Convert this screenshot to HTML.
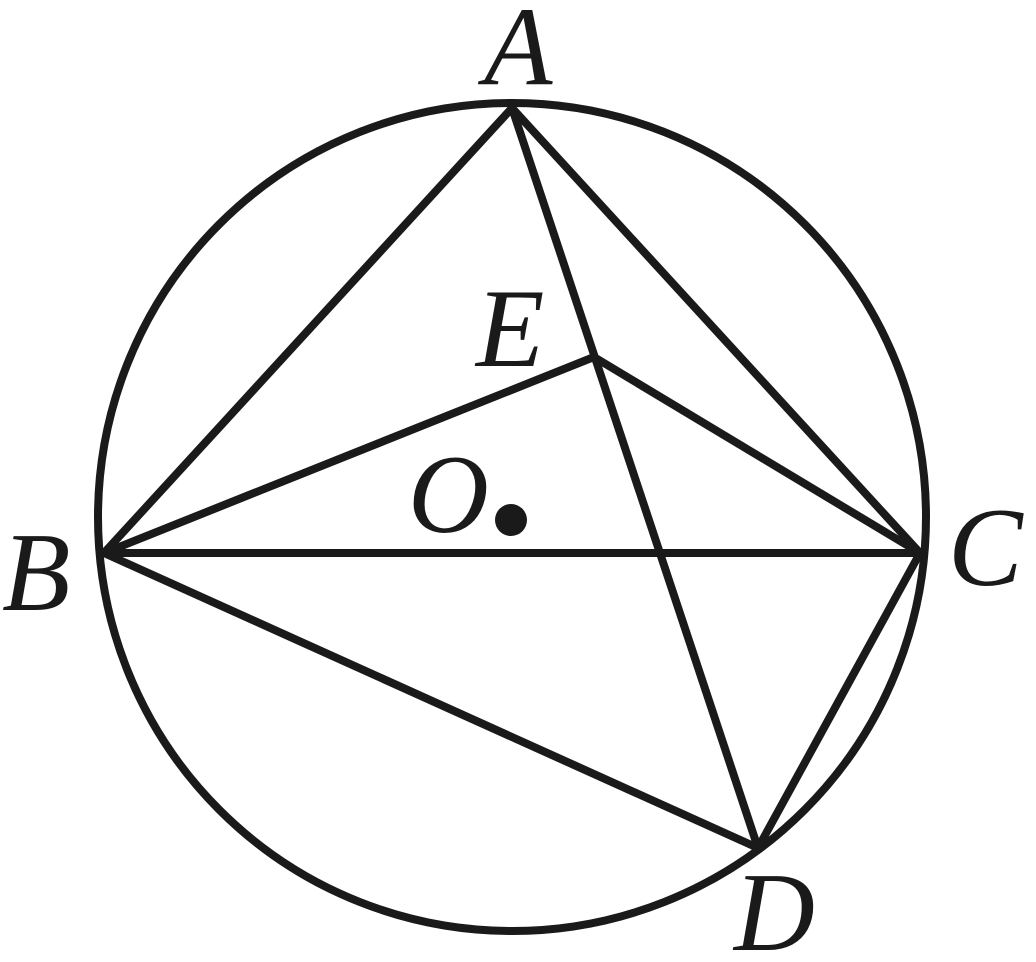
<!DOCTYPE html>
<html><head><style>html,body{margin:0;padding:0;background:#fff}
text{font-family:"Liberation Serif","DejaVu Serif",serif;font-style:italic;font-size:112px;fill:#1a1a1a}</style></head>
<body>
<svg width="1036" height="957" viewBox="0 0 1036 957" xmlns="http://www.w3.org/2000/svg">
<g fill="none" stroke="#1a1a1a" stroke-width="8" stroke-linejoin="round" stroke-linecap="round">
<circle cx="512" cy="517" r="414"/>
<line x1="512" y1="108" x2="104" y2="553"/>
<line x1="512" y1="108" x2="920" y2="553"/>
<line x1="512" y1="108" x2="758" y2="848"/>
<line x1="104" y1="553" x2="920" y2="553"/>
<line x1="104" y1="553" x2="594" y2="357"/>
<line x1="594" y1="357" x2="920" y2="553"/>
<line x1="104" y1="553" x2="758" y2="848"/>
<line x1="920" y1="553" x2="758" y2="848"/>
</g>
<circle cx="511" cy="520" r="16" fill="#1a1a1a"/>
<text x="484" y="84">A</text>
<text x="476" y="366">E</text>
<text x="408" y="532">O</text>
<text x="2" y="610">B</text>
<text x="948" y="585">C</text>
<text x="734" y="950">D</text>
</svg>
</body></html>
